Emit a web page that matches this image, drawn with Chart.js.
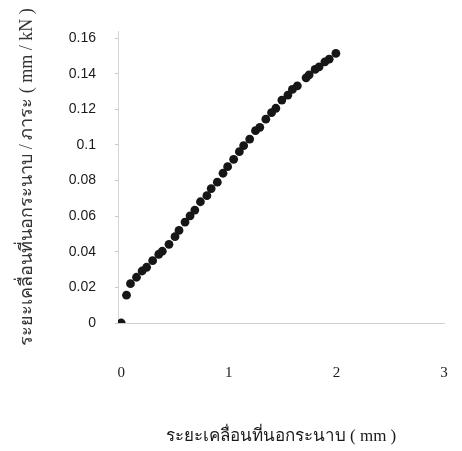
<!DOCTYPE html>
<html lang="th">
<head>
  <meta charset="UTF-8">
  <title>ระยะเคลื่อนที่นอกระนาบ / ภาระ</title>
  <script src="https://cdn.jsdelivr.net/npm/chart.js"></script>
  <style>
    html, body { margin: 0; padding: 0; background: #ffffff; }
    #wrap { width: 462px; height: 451px; }
  </style>
</head>
<body>
  <div id="wrap"><canvas id="deflChart"></canvas></div>
  <script>
    // displacement (mm)
    const xDisp = [0, 0.049, 0.086, 0.142, 0.194, 0.236, 0.292, 0.349, 0.382, 0.444,
      0.500, 0.537, 0.593, 0.640, 0.684, 0.736, 0.796, 0.836, 0.893, 0.946,
      0.989, 1.045, 1.098, 1.138, 1.194, 1.248, 1.288, 1.344, 1.397, 1.437,
      1.493, 1.549, 1.591, 1.637, 1.718, 1.746, 1.802, 1.839, 1.893, 1.933, 1.995];
    // displacement / load (mm/kN)
    const yRatio = [0, 0.0156, 0.0221, 0.0257, 0.0292, 0.0313, 0.0350, 0.0386, 0.0403, 0.0442,
      0.0485, 0.0520, 0.0567, 0.0602, 0.0634, 0.0681, 0.0715, 0.0755, 0.0791, 0.0841,
      0.0878, 0.0919, 0.0962, 0.0996, 0.1033, 0.1080, 0.1099, 0.1145, 0.1181, 0.1206,
      0.1252, 0.1280, 0.1312, 0.1332, 0.1377, 0.1393, 0.1424, 0.1439, 0.1467, 0.1482, 0.1514];

    const xTicks = [0, 1, 2, 3];
    const yTicks = [0, 0.02, 0.04, 0.06, 0.08, 0.1, 0.12, 0.14, 0.16];

    const xTitle = "ระยะเคลื่อนที่นอกระนาบ ( mm )";
    const yTitle = "ระยะเคลื่อนที่นอกระนาบ / ภาระ ( mm / kN )";

    const points = xDisp.map((x, i) => ({ x: x, y: yRatio[i] }));

    const ctx = document.getElementById("deflChart").getContext("2d");
    const chart = new Chart(ctx, {
      type: "scatter",
      data: {
        datasets: [{
          data: points,
          backgroundColor: "#161616",
          borderColor: "#161616",
          borderWidth: 0,
          pointRadius: 4.4,
          pointHoverRadius: 4.4
        }]
      },
      options: {
        responsive: true,
        maintainAspectRatio: false,
        animation: false,
        layout: { padding: { top: 31, right: 18, bottom: 0, left: 0 } },
        plugins: {
          legend: { display: false },
          tooltip: { enabled: false }
        },
        scales: {
          x: {
            type: "linear",
            min: -0.03,
            max: 3,
            afterBuildTicks: s => { s.ticks = xTicks.map(v => ({ value: v })); },
            afterFit: s => { s.height = 128; },
            // invisible tick marks push the labels well below the zero line
            grid: { display: true, drawOnChartArea: false, drawTicks: true, tickLength: 38, color: "rgba(0,0,0,0)" },
            border: { display: true, color: "#d0d0d0", dash: [3, 3] },
            ticks: {
              padding: 3,
              color: "#1a1a1a",
              font: { family: "'Liberation Serif', serif", size: 15 }
            },
            title: {
              display: true,
              text: xTitle,
              color: "#1a1a1a",
              padding: { top: 0, bottom: 4 },
              font: { family: "'Liberation Serif', serif", size: 17 }
            }
          },
          y: {
            type: "linear",
            min: 0,
            max: 0.164,
            afterBuildTicks: s => { s.ticks = yTicks.map(v => ({ value: v })); },
            afterFit: s => { s.width = 118; },
            grid: { drawOnChartArea: false, drawTicks: true, tickLength: 3, color: "#c8c8c8" },
            border: { display: true, color: "#d4d4d4" },
            ticks: {
              padding: 19,
              color: "#1a1a1a",
              font: { family: "'Liberation Sans', sans-serif", size: 14 },
              callback: v => String(parseFloat(v.toFixed(2)))
            },
            title: {
              display: true,
              text: yTitle,
              color: "#333333",
              padding: { top: 16, bottom: 0 },
              font: { family: "'Liberation Serif', serif", size: 18 }
            }
          }
        }
      }
    });
  </script>
</body>
</html>
